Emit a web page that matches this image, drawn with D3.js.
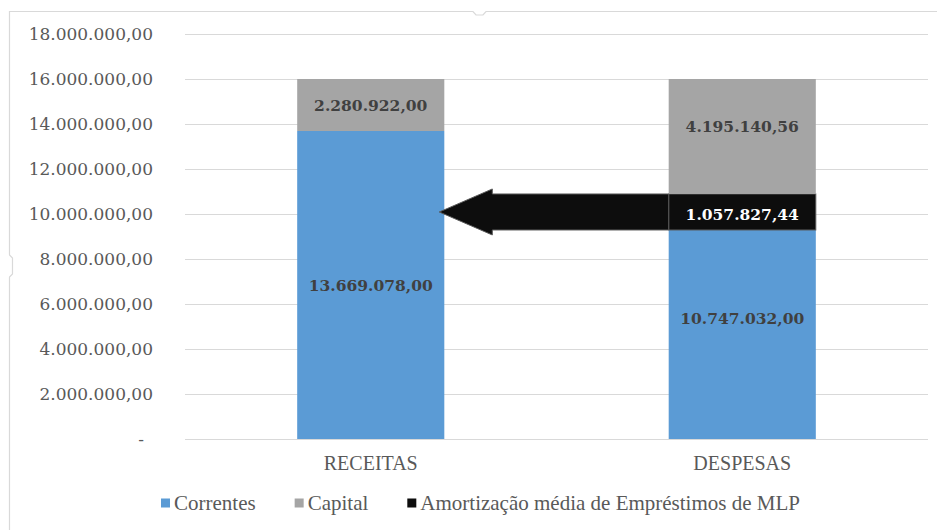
<!DOCTYPE html>
<html>
<head>
<meta charset="utf-8">
<script src="https://cdn.jsdelivr.net/npm/d3@7/dist/d3.min.js"></script>
<style>
  html, body { margin: 0; padding: 0; background: #fff; }
  svg { display: block; }
</style>
</head>
<body>
<svg id="chart" width="937" height="530"></svg>
<script>
// ---- data ----
const categories = ["RECEITAS", "DESPESAS"];
const seriesNames = ["Correntes", "Capital", "Amortização média de Empréstimos de MLP"];
// bar heights as drawn in the picture
const correntes   = [13690000, 9290000];
const amortizacao = [0, 1600000];
const capital     = [2310000, 5110000];
// values printed in the data labels
const correntesLabel   = [13669078.00, 10747032.00];
const amortizacaoLabel = [null, 1057827.44];
const capitalLabel     = [2280922.00, 4195140.56];
// y-axis ticks
const yTicks = [0, 2000000, 4000000, 6000000, 8000000, 10000000, 12000000, 14000000, 16000000, 18000000];

const colors = { "Correntes": "#5b9bd5", "Capital": "#a5a5a5", "Amortização média de Empréstimos de MLP": "#0d0d0d" };

const ptBR = d3.formatLocale({ decimal: ",", thousands: ".", grouping: [3], currency: ["R$ ", ""] });
const fmt = ptBR.format(",.2f");

const svg = d3.select("#chart");
const margin = { left: 185, right: 9, top: 34, bottom: 91 };
const W = 937, H = 530;

// frame (chart area border with selection handles)
svg.append("path")
  .attr("d", "M9.5,530 L9.5,277 L12.5,274 L12.5,258 L9.5,255 L9.5,11.5 L473,11.5 L476,15 L483,15 L486,11.5 L937,11.5")
  .attr("fill", "none").attr("stroke", "#d9d9d9").attr("stroke-width", 1.2);

const x = d3.scaleBand().domain(categories).range([margin.left, W - margin.right])
  .paddingInner(0.604).paddingOuter(0.302);
const y = d3.scaleLinear().domain([0, 18000000]).range([H - margin.bottom, margin.top]);

// gridlines
svg.append("g").selectAll("line").data(yTicks).join("line")
  .attr("x1", margin.left).attr("x2", W - margin.right)
  .attr("y1", d => Math.round(y(d)) + 0.5).attr("y2", d => Math.round(y(d)) + 0.5)
  .attr("stroke", "#d9d9d9").attr("stroke-width", 1);

// y axis labels
const yAxis = d3.axisLeft(y).tickValues(yTicks).tickSize(0).tickPadding(0)
  .tickFormat(d => d === 0 ? "-" : fmt(d));
const gy = svg.append("g").attr("transform", "translate(153,0)").call(yAxis);
gy.select(".domain").remove();
gy.selectAll("text")
  .attr("font-family", "'DejaVu Serif', serif").attr("font-size", 17).attr("fill", "#595959")
  .attr("dx", d => d === 0 ? -9 : 0);

// stacked data
const order = ["Correntes", "Amortização média de Empréstimos de MLP", "Capital"];
const rows = categories.map((c, i) => ({
  cat: c,
  "Correntes": correntes[i],
  "Amortização média de Empréstimos de MLP": amortizacao[i],
  "Capital": capital[i]
}));
const stack = d3.stack().keys(order)(rows);

const bw = x.bandwidth();
stack.forEach(layer => {
  const key = layer.key;
  const isAm = key === order[1];
  svg.append("g").selectAll("rect").data(layer.filter(d => d[1] - d[0] > 0)).join("rect")
    .attr("x", d => x(d.data.cat))
    .attr("width", bw)
    .attr("y", d => y(d[1]))
    .attr("height", d => y(d[0]) - y(d[1]))
    .attr("fill", colors[key])
    .attr("stroke", isAm ? "#595959" : "none")
    .attr("stroke-width", isAm ? 1 : 0);
});

// arrow from the amortization segment of DESPESAS toward RECEITAS
const amSeg = stack[1][1];
const y0 = y(amSeg[1]), y1 = y(amSeg[0]);
const yc = (y0 + y1) / 2;
const tipX = x("RECEITAS") + bw - 5;
const headX = tipX + 53;
const tailX = x("DESPESAS");
const headHalf = 23;
svg.append("path")
  .attr("d", `M${tipX},${yc} L${headX},${yc - headHalf} L${headX},${y0} L${tailX},${y0} L${tailX},${y1} L${headX},${y1} L${headX},${yc + headHalf} Z`)
  .attr("fill", "#0d0d0d").attr("stroke", "#595959").attr("stroke-width", 1);

// data labels: Correntes and Capital centered on stacked label values
const labelG = svg.append("g")
  .attr("font-family", "'DejaVu Serif', serif").attr("font-weight", "bold")
  .attr("font-size", 15.5).attr("text-anchor", "middle");
categories.forEach((c, i) => {
  const cx = x(c) + bw / 2;
  const a = correntesLabel[i];
  const m = amortizacaoLabel[i] || 0;
  const k = capitalLabel[i];
  labelG.append("text").attr("x", cx).attr("y", y(a / 2)).attr("dy", "0.35em")
    .attr("fill", "#404040").text(fmt(a));
  labelG.append("text").attr("x", cx).attr("y", y(a + m + k / 2)).attr("dy", "0.35em")
    .attr("fill", "#404040").text(fmt(k));
  if (amortizacaoLabel[i] != null) {
    const seg = stack[1][i];
    labelG.append("text").attr("x", cx).attr("y", (y(seg[0]) + y(seg[1])) / 2 + 3).attr("dy", "0.35em")
      .attr("fill", "#ffffff").text(fmt(amortizacaoLabel[i]));
  }
});

// x axis labels
const xAxis = d3.axisBottom(x).tickSize(0).tickPadding(0);
const gx = svg.append("g").attr("transform", `translate(0,${H - margin.bottom})`).call(xAxis);
gx.select(".domain").remove();
gx.selectAll("text")
  .attr("font-family", "'Liberation Serif', serif").attr("font-size", 20).attr("fill", "#595959")
  .attr("dy", null).attr("y", 31);

// legend
const legendNames = seriesNames;
const lg = svg.append("g").attr("font-family", "'Liberation Serif', serif").attr("font-size", 21).attr("fill", "#595959");
let lx = 161;
const ly = 503;
legendNames.forEach(n => {
  lg.append("rect").attr("x", lx).attr("y", ly - 4.5).attr("width", 9).attr("height", 9).attr("fill", colors[n]);
  const t = lg.append("text").attr("x", lx + 13).attr("y", ly).attr("dy", "0.35em").text(n);
  lx += 13 + t.node().getComputedTextLength() + 39;
});
</script>
</body>
</html>
